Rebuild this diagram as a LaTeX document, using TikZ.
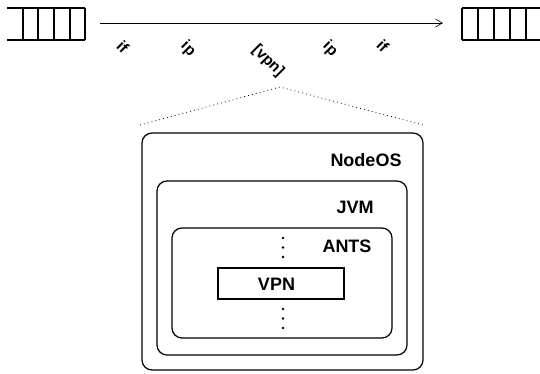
\documentclass[tikz,border=0pt]{standalone}
\usepackage{fontspec}
\setmainfont{Liberation Sans}
\usetikzlibrary{arrows.meta}
\begin{document}
\begin{tikzpicture}[x=1pt,y=-1pt,
  layer/.style={draw,line width=1.2pt,rounded corners=10pt,inner sep=0pt},
  inner/.style={draw,line width=1.2pt,inner sep=0pt},
  title/.style={font=\fontsize{18}{18}\selectfont\bfseries,inner sep=0pt},
  hdr/.style={font=\fontsize{15.5}{15.5}\selectfont\bfseries,rotate=-45,inner sep=0pt},
  queue/.style={line width=1.1pt},
  dotline/.style={line width=0.8pt,dash pattern=on 0.8pt off 3.2pt},
  vdot/.style={fill,circle,inner sep=0pt,minimum size=2.6pt}]
\useasboundingbox (0,0) rectangle (540,374);

% input and output queues
\draw[queue] (7,8) -- (85,8) (7,40) -- (85,40);
\foreach \x in {23,38,54,70,85} \draw[queue] (\x,8) -- (\x,40);
\draw[queue] (462,8) -- (540,8) (462,40) -- (540,40);
\foreach \x in {462,478,494,510,526} \draw[queue] (\x,8) -- (\x,40);

% packet travelling between the queues
\coordinate (src) at (100,23);
\coordinate (dst) at (443,23);
\draw[line width=0.8pt,-{Straight Barb[length=7pt,width=8pt,line width=0.6pt]}] (src) -- (dst);

% packet headers
\node[hdr] (if1) at (123,47) {if};
\node[hdr] (ip1) at (188,49) {ip};
\node[hdr] (vpn) at (268,61) {[vpn]};
\node[hdr] (ip2) at (330,49) {ip};
\node[hdr] (if2) at (383,46) {if};

% node architecture layers
\node[layer,minimum width=281pt,minimum height=237pt] (nodeos) at (282.5,251.5) {};
\node[layer,minimum width=250pt,minimum height=174pt] (jvm) at (282,268) {};
\node[layer,minimum width=220pt,minimum height=110pt] (ants) at (282,283) {};
\node[inner,minimum width=126pt,minimum height=31pt] (vpnbox) at (281,283.5) {};

\node[title] (tnodeos) at (366,160) {NodeOS};
\node[title] (tjvm) at (355,207) {JVM};
\node[title] (tants) at (347,246) {ANTS};
\node[title] (tvpn) at (276.5,284) {VPN};

% other code above and below the VPN
\foreach \y [count=\i] in {238,247.5,257,309,318.5,328} \node[vdot] (d\i) at (283,\y) {};

% zoom-in lines from the vpn header to the node
\coordinate (zl) at (140,125);
\coordinate (zr) at (423,125);
\coordinate (apex) at (280,87);
\draw[dotline] (zl) -- (apex) -- (zr);
\end{tikzpicture}
\end{document}
